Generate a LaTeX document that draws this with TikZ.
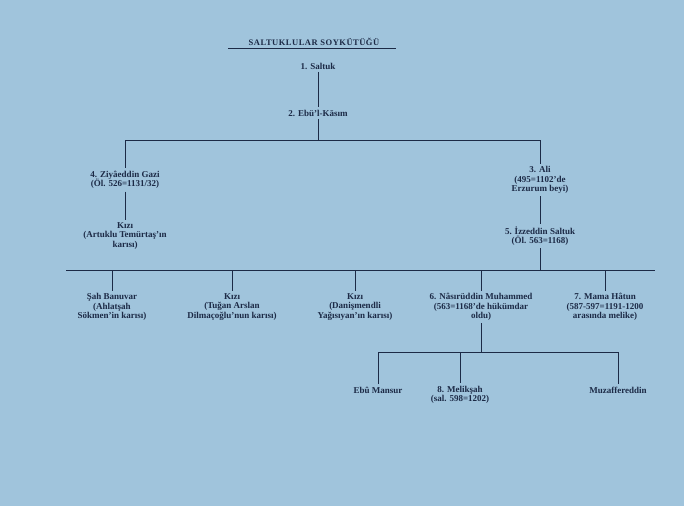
\documentclass[tikz,border=0pt]{standalone}
\usepackage{fontspec}
\setmainfont{Liberation Serif}
\newfontfamily\titlefont[LetterSpace=6]{Liberation Serif}
\definecolor{bg}{RGB}{160,196,220}
\definecolor{ink}{RGB}{28,42,70}
\begin{document}
\begin{tikzpicture}[x=1pt,y=-1pt,
  person/.style={align=center,inner sep=2.5pt,text=ink,font=\fontsize{9}{9.5}\selectfont\bfseries},
  link/.style={draw=ink,line width=0.7pt}]
\fill[bg] (0,0) rectangle (684,506);
\useasboundingbox (0,0) rectangle (684,506);
% title
\node[text=ink,inner sep=1pt,font=\titlefont\fontsize{8.5}{9}\selectfont\bfseries] (title) at (314,42) {SALTUKLULAR SOYKÜTÜĞÜ};
\coordinate (ul) at (228,48);
\coordinate (ur) at (396,48);
\draw[link,line width=0.6pt] (ul) -- (ur);
% nodes
\node[person] (n1) at (318,66) {1. Saltuk};
\node[person] (n2) at (318,113) {2. Ebü'l-Kāsım};
\node[person] (n4) at (125,180) {4. Ziyâeddin Gazi\\(Öl. 526=1131/32)};
\node[person] (k1) at (125,236) {Kızı\\(Artuklu Temürtaş'ın\\karısı)};
\node[person] (n3) at (540,180) {3. Ali\\(495=1102'de\\Erzurum beyi)};
\node[person] (n5) at (540,236) {5. İzzeddin Saltuk\\(Öl. 563=1168)};
\node[person] (c1) at (112,307) {Şah Banuvar\\(Ahlatşah\\Sökmen'in karısı)};
\node[person] (c2) at (232,307) {Kızı\\(Tuğan Arslan\\Dilmaçoğlu'nun karısı)};
\node[person] (c3) at (355,307) {Kızı\\(Danişmendli\\Yağısıyan'ın karısı)};
\node[person] (n6) at (481,307) {6. Nâsırüddin Muhammed\\(563=1168'de hükümdar\\oldu)};
\node[person] (n7) at (605,307) {7. Mama Hâtun\\(587-597=1191-1200\\arasında melike)};
\node[person] (e1) at (378,390) {Ebû Mansur};
\node[person] (n8) at (460,395) {8. Melikşah\\(sal. 598=1202)};
\node[person] (m1) at (618,390) {Muzaffereddin};
% connectors
\draw[link] (n1) -- (n2);
\coordinate (j1) at (318,140);
\draw[link] (n2) -- (j1);
\draw[link] (j1) -| (n4);
\draw[link] (j1) -| (n3);
\draw[link] (n4) -- (k1);
\draw[link] (n3) -- (n5);
\coordinate (j2) at (540,270);
\coordinate (hl) at (66,270);
\coordinate (hr) at (655,270);
\draw[link] (n5) -- (j2);
\draw[link] (hl) -- (hr);
\foreach \c in {c1,c2,c3,n6,n7} \draw[link] (\c |- j2) -- (\c);
\coordinate (j3) at (481,352);
\draw[link] (n6) -- (j3);
\draw[link] (e1 |- j3) -- (m1 |- j3);
\foreach \c in {e1,n8,m1} \draw[link] (\c |- j3) -- (\c);
\end{tikzpicture}
\end{document}
